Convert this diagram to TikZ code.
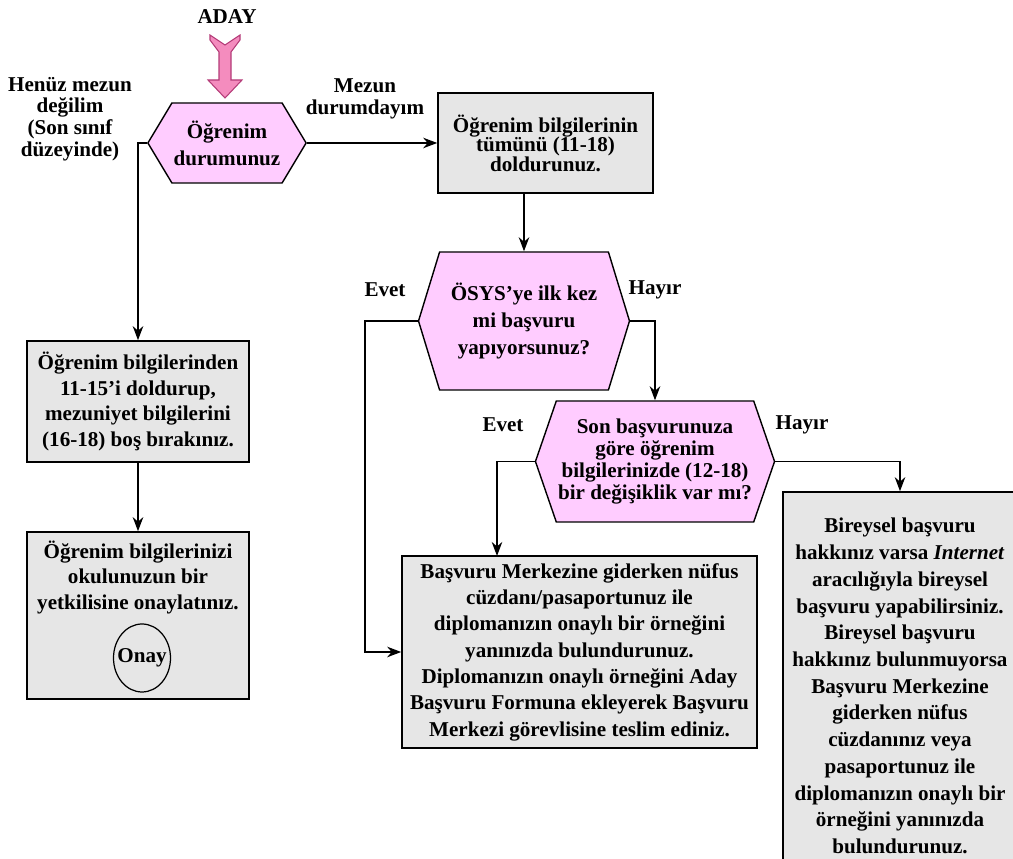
\documentclass[tikz,border=0pt]{standalone}
\usepackage{fontspec}
\setmainfont{Liberation Serif}
\usetikzlibrary{shapes.symbols,shapes.geometric,arrows.meta}
\definecolor{pembe}{RGB}{255,204,255}
\definecolor{okpembe}{RGB}{244,140,190}
\definecolor{okkenar}{RGB}{180,60,120}
\definecolor{gri}{RGB}{230,230,230}
\newcommand{\satir}[1]{\bfseries\fontsize{12}{#1}\selectfont}
\tikzset{>={Stealth[length=8pt,width=6pt]}}
\tikzset{
	kutu/.style={draw, line width=0.9pt, fill=gri, align=center, inner sep=2pt},
	altigen/.style={shape=signal, signal to=east and west, draw, line width=0.8pt, fill=pembe, align=center, inner sep=1pt},
	etiket/.style={align=center},
	yol/.style={line width=0.8pt, ->}
}

\begin{document}
\begin{tikzpicture}
	\useasboundingbox (0,0) rectangle (20.26,17.18);

	\node[font=\satir{12}] (aday) at (4.54,16.84) {ADAY};
	\filldraw[fill=okpembe, draw=okkenar, line width=0.6pt](4.20,16.48)--(4.50,16.28)--(4.80,16.48)--(4.80,16.38)--(4.62,16.14)--(4.62,15.58)--(4.84,15.58)--(4.50,15.22)--(4.16,15.58)--(4.38,15.58)--(4.38,16.14)--(4.20,16.38)--cycle;

	\node[altigen, minimum width=3.04cm, minimum height=1.60cm, signal pointer angle=118, font=\satir{15.4}] (durum) at (4.54,14.32) {Öğrenim\\durumunuz};
	\node[kutu, minimum width=4.30cm, minimum height=2.00cm, font=\satir{11.1}] (tumu) at (10.91,14.32) {Öğrenim bilgilerinin\\tümünü (11-18)\\doldurunuz.};
	\node[altigen, minimum width=4.22cm, minimum height=2.76cm, signal pointer angle=146, font=\satir{15.3}] (ilkkez) at (10.48,10.76) {ÖSYS’ye ilk kez\\mi başvuru\\yapıyorsunuz?};
	\node[altigen, minimum width=4.64cm, minimum height=2.42cm, signal pointer angle=142, font=\satir{12.7}] (degisiklik) at (13.10,7.95) {Son başvurunuza\\göre öğrenim\\bilgilerinizde (12-18)\\bir değişiklik var mı?};

	\node[kutu, minimum width=4.44cm, minimum height=2.42cm, font=\satir{14.6}] (mezundegil) at (2.76,9.15) {Öğrenim bilgilerinden\\11-15’i doldurup,\\mezuniyet bilgilerini\\(16-18) boş bırakınız.};
	\node[kutu, minimum width=4.44cm, minimum height=3.34cm] (okul) at (2.76,4.87) {};
	\node[etiket, font=\satir{14.5}] (okulyazi) at (2.76,5.63) {Öğrenim bilgilerinizi\\okulunuzun bir\\yetkilisine onaylatınız.};
	\node[draw, ellipse, line width=0.7pt, minimum width=1.14cm, minimum height=1.36cm, inner xsep=-3pt, inner ysep=0pt, font=\satir{12}] (onay) at (2.84,4.02) {Onay};

	\node[kutu, minimum width=7.10cm, minimum height=3.84cm, font=\satir{15.0}] (basvuru) at (11.59,4.14) {Başvuru Merkezine giderken nüfus\\cüzdanı/pasaportunuz ile\\diplomanızın onaylı bir örneğini\\yanınızda bulundurunuz.\\Diplomanızın onaylı örneğini Aday\\Başvuru Formuna ekleyerek Başvuru\\Merkezi görevlisine teslim ediniz.};
	\node[kutu, minimum width=4.68cm, minimum height=7.76cm, font=\satir{15.2}] (bireysel) at (18.00,3.46) {Bireysel başvuru\\hakkınız varsa \textit{Internet}\\aracılığıyla bireysel\\başvuru yapabilirsiniz.\\Bireysel başvuru\\hakkınız bulunmuyorsa\\Başvuru Merkezine\\giderken nüfus\\cüzdanınız veya\\pasaportunuz ile\\diplomanızın onaylı bir\\örneğini yanınızda\\bulundurunuz.};

	\node[etiket, font=\satir{12.3}] (degil) at (1.40,14.80) {Henüz mezun\\değilim\\(Son sınıf\\düzeyinde)};
	\node[etiket, font=\satir{12.4}] (mezun) at (7.30,15.20) {Mezun\\durumdayım};
	\node[font=\satir{12}] (evet1) at (7.70,11.38) {Evet};
	\node[font=\satir{12}] (hayir1) at (13.10,11.38) {Hayır};
	\node[font=\satir{12}] (evet2) at (10.06,8.68) {Evet};
	\node[font=\satir{12}] (hayir2) at (16.04,8.68) {Hayır};

	\coordinate (kose1) at (7.30,10.76);
	\coordinate (kose2) at (9.94,6.06);

	\draw[yol] (durum.west) -| (mezundegil.north);
	\draw[yol] (durum.east) -- (tumu.west);
	\draw[yol] (tumu.south -| ilkkez.north) -- (ilkkez.north);
	\draw[yol] (ilkkez.west) -- (kose1) |- (basvuru.west);
	\draw[yol] (ilkkez.east) -| (degisiklik.north);
	\draw[yol] (degisiklik.west) -| (kose2);
	\draw[yol] (degisiklik.east) -| (bireysel.north);
	\draw[yol] (mezundegil.south) -- (okul.north);
\end{tikzpicture}
\end{document}
